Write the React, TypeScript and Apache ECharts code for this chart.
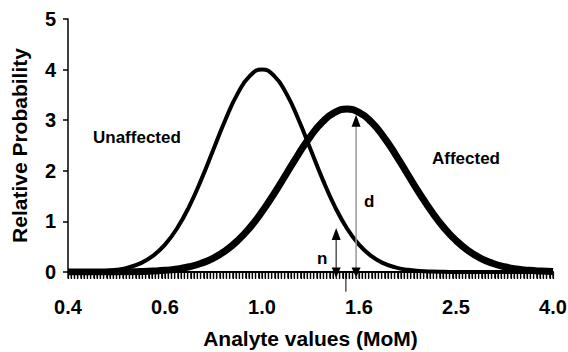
import React, { useEffect, useRef } from "react";
import * as echarts from "echarts";

// x positions are log10(MoM)
const xLog: number[] = [
  -0.4, -0.375, -0.35, -0.325, -0.3, -0.275, -0.25, -0.225, -0.2, -0.175,
  -0.15, -0.125, -0.1, -0.075, -0.05, -0.025, 0, 0.025, 0.05, 0.075,
  0.1, 0.125, 0.15, 0.175, 0.2, 0.225, 0.25, 0.275, 0.3, 0.325,
  0.35, 0.375, 0.4, 0.425, 0.45, 0.475, 0.5, 0.525, 0.55, 0.575, 0.6,
];

const unaffected: number[] = [
  0.001, 0.004, 0.009, 0.02, 0.044, 0.091, 0.176, 0.318, 0.541, 0.865,
  1.299, 1.831, 2.426, 3.019, 3.53, 3.877, 4.0, 3.877, 3.53, 3.019,
  2.426, 1.831, 1.299, 0.865, 0.541, 0.318, 0.176, 0.091, 0.044, 0.02,
  0.009, 0.004, 0.001, 0, 0, 0, 0, 0, 0, 0, 0,
];

const affected: number[] = [
  0, 0, 0, 0.001, 0.002, 0.004, 0.009, 0.018, 0.033, 0.06,
  0.104, 0.173, 0.275, 0.422, 0.621, 0.877, 1.189, 1.549, 1.937, 2.326,
  2.682, 2.969, 3.155, 3.22, 3.155, 2.969, 2.682, 2.326, 1.937, 1.549,
  1.189, 0.877, 0.621, 0.422, 0.275, 0.173, 0.104, 0.06, 0.033, 0.018, 0.009,
];

const tickLabels: string[] = ["0.4", "0.6", "1.0", "1.6", "2.5", "4.0"];

// number of dense tick marks forming the hatched band under the x axis
const hatchCount = 150;

// annotation values (log10 MoM, relative probability)
const cutoffX = 0.173;
const cutoffBottom = -0.39;
const nArrowX = 0.153;
const nArrowTop = 0.87;
const dArrowX = 0.194;
const dArrowTop = 3.11;
const arrowBottom = -0.11;
const hatchBottom = -0.13;

const FONT = '"Liberation Sans", Arial, Helvetica, sans-serif';

export default function App() {
  const ref = useRef<HTMLDivElement>(null);

  useEffect(() => {
    if (!ref.current) return;
    const chart = echarts.init(ref.current, undefined, { renderer: "svg" });
    const unData = xLog.map((x, i) => [x, unaffected[i]]);
    const afData = xLog.map((x, i) => [x, affected[i]]);

    chart.setOption({
      animation: false,
      backgroundColor: "#fff",
      grid: { left: 68, right: 15, top: 19, bottom: 80, containLabel: false, outerBoundsMode: "none" },
      xAxis: {
        type: "value",
        min: -0.4,
        max: 0.6,
        interval: 0.2,
        name: "Analyte values (MoM)",
        nameLocation: "middle",
        nameGap: 56,
        nameTextStyle: { fontFamily: FONT, fontWeight: "bold", fontSize: 21, color: "#000" },
        axisLine: { show: true, onZero: false, lineStyle: { color: "#000", width: 2 } },
        axisTick: { show: true, inside: false, length: 7, lineStyle: { color: "#000", width: 1.2 } },
        minorTick: { show: true, splitNumber: 30, length: 7, lineStyle: { color: "#000", width: 1.2 } },
        splitLine: { show: false },
        axisLabel: {
          margin: 25,
          fontFamily: FONT,
          fontWeight: "bold",
          fontSize: 20,
          color: "#000",
          formatter: (v: number) => {
            const i = Math.round((v + 0.4) / 0.2);
            return tickLabels[i] ?? "";
          },
        },
      },
      yAxis: {
        type: "value",
        min: 0,
        max: 5,
        interval: 1,
        name: "Relative Probability",
        nameLocation: "middle",
        nameGap: 38,
        nameTextStyle: { fontFamily: FONT, fontWeight: "bold", fontSize: 21, color: "#000" },
        axisLine: { show: true, onZero: false, lineStyle: { color: "#000", width: 1.5 } },
        axisTick: { show: true, length: 5, lineStyle: { color: "#000", width: 1.5 } },
        splitLine: { show: false },
        axisLabel: { margin: 12, fontFamily: FONT, fontWeight: "bold", fontSize: 20, color: "#000" },
      },
      series: [
        {
          type: "line",
          name: "Unaffected",
          data: unData,
          smooth: true,
          showSymbol: false,
          symbol: "none",
          silent: true,
          lineStyle: { color: "#000", width: 4, join: "round" },
        },
        {
          type: "line",
          name: "Affected",
          data: afData,
          smooth: true,
          showSymbol: false,
          symbol: "none",
          silent: true,
          lineStyle: { color: "#000", width: 7, join: "round" },
        },
      ],
    });

    const px = (x: number, y: number) =>
      chart.convertToPixel({ xAxisIndex: 0, yAxisIndex: 0 }, [x, y]) as number[];

    const nTop = px(nArrowX, nArrowTop);
    const nBot = px(nArrowX, arrowBottom);
    const dTop = px(dArrowX, dArrowTop);
    const dBot = px(dArrowX, arrowBottom);
    const cTop = px(cutoffX, 0);
    const cBot = px(cutoffX, cutoffBottom);

    const upHead = (p: number[]) => ({
      type: "polygon",
      silent: true,
      z: 20,
      shape: { points: [[p[0], p[1]], [p[0] - 4.5, p[1] + 12], [p[0] + 4.5, p[1] + 12]] },
      style: { fill: "#000" },
    });
    const downHead = (p: number[]) => ({
      type: "polygon",
      silent: true,
      z: 20,
      shape: { points: [[p[0], p[1]], [p[0] - 4.5, p[1] - 10], [p[0] + 4.5, p[1] - 10]] },
      style: { fill: "#000" },
    });

    const hatch: any[] = [];
    for (let i = 0; i <= hatchCount; i++) {
      const xv = -0.4 + i / hatchCount;
      const a = px(xv, 0);
      const b = px(xv, hatchBottom);
      hatch.push({
        type: "line",
        silent: true,
        z: 5,
        shape: { x1: a[0], y1: a[1], x2: b[0], y2: b[1] },
        style: { stroke: "#000", lineWidth: 1.3 },
      });
    }

    chart.setOption({
      graphic: [
        { type: "group", silent: true, children: hatch },
        { type: "line", silent: true, z: 15, shape: { x1: nBot[0], y1: nBot[1], x2: nTop[0], y2: nTop[1] + 6 }, style: { stroke: "#555", lineWidth: 1.5 } },
        { type: "line", silent: true, z: 15, shape: { x1: dBot[0], y1: dBot[1], x2: dTop[0], y2: dTop[1] + 6 }, style: { stroke: "#999", lineWidth: 1.5 } },
        { type: "line", silent: true, z: 15, shape: { x1: cTop[0], y1: cTop[1], x2: cBot[0], y2: cBot[1] }, style: { stroke: "#000", lineWidth: 1 } },
        upHead(nTop),
        upHead(dTop),
        downHead(nBot),
        downHead(dBot),
        { type: "text", left: 93, top: 129, style: { text: "Unaffected", font: `bold 17px ${FONT}`, fill: "#000" } },
        { type: "text", left: 432, top: 150, style: { text: "Affected", font: `bold 17px ${FONT}`, fill: "#000" } },
        { type: "text", left: 364, top: 193, style: { text: "d", font: `bold 17px ${FONT}`, fill: "#000" } },
        { type: "text", left: 317, top: 250, style: { text: "n", font: `bold 17px ${FONT}`, fill: "#000" } },
      ],
    });
    return () => chart.dispose();
  }, []);

  return <div ref={ref} style={{ width: 568, height: 352, position: "absolute", left: 0, top: 0 }} />;
}
